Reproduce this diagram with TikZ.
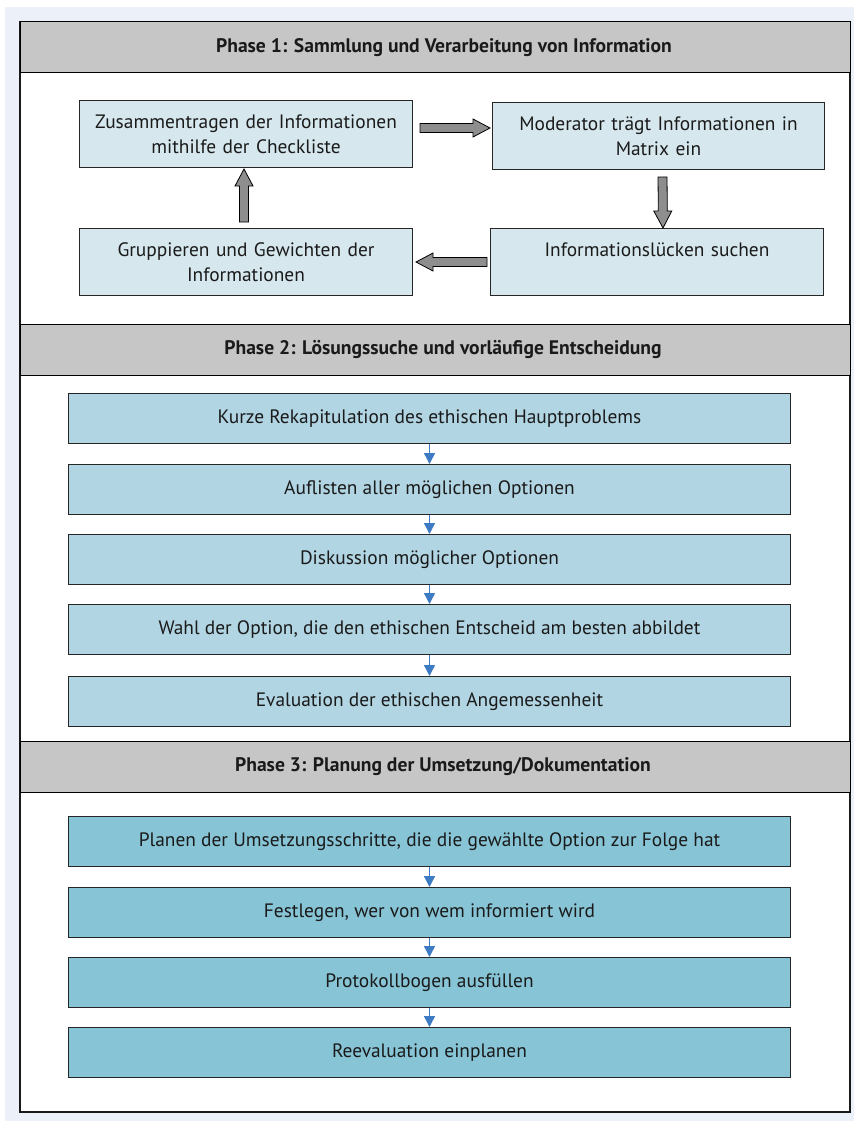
\documentclass[tikz,border=0pt]{standalone}
\usepackage{fontspec}
\setmainfont{PT Sans}
\usetikzlibrary{arrows.meta,calc}
\definecolor{bgcol}{HTML}{ECF0F8}
\definecolor{headgray}{HTML}{C6C6C6}
\definecolor{boxa}{HTML}{D6E8EE}
\definecolor{boxb}{HTML}{B1D5E2}
\definecolor{boxc}{HTML}{87C4D6}
\definecolor{argray}{HTML}{8E8E8E}
\definecolor{arblue}{HTML}{3D7BC4}
\definecolor{txt}{HTML}{1A1A1A}
\newcommand\blockarr[2]{%
  \path[draw=black,fill=argray,line width=0.8pt] let \p1=#1, \p2=#2,
    \n1={atan2(\y2-\y1,\x2-\x1)}, \n2={veclen(\x2-\x1,\y2-\y1)} in
    [shift={(\p1)}, rotate=\n1]
    (0pt,-4.5pt) -- (\n2-17pt,-4.5pt) -- (\n2-17pt,-9pt) -- (\n2,0pt)
    -- (\n2-17pt,9pt) -- (\n2-17pt,4.5pt) -- (0pt,4.5pt) -- cycle;}
\begin{document}
\begin{tikzpicture}[x=1pt,y=-1pt,
  font=\fontsize{19.4}{25}\selectfont,
  head/.style={draw=black,line width=1pt,fill=headgray},
  headtext/.style={font=\fontsize{19.6}{22}\selectfont\bfseries,text=txt},
  boxone/.style={draw=black!85,line width=1pt,fill=boxa,anchor=north west,
    minimum height=67pt,align=center,text=txt,inner sep=2pt},
  boxtwo/.style={draw=black!85,line width=1pt,fill=boxb,anchor=north west,
    minimum width=722pt,minimum height=50pt,text=txt,inner sep=0pt},
  boxthree/.style={boxtwo,fill=boxc},
  bluearr/.style={arblue,line width=1.4pt,-{Triangle[length=11pt,width=11pt]}}
]
\useasboundingbox (0,0) rectangle (854,1121);
\fill[bgcol] (5,7) rectangle (854,1121);
\draw[line width=1.4pt,draw=black!90,fill=white] (20,22) rectangle (850,1112);

% headers
\draw[head] (20,22) rectangle (850,73);
\node[headtext] (h1) at (444,48) {Phase 1: Sammlung und Verarbeitung von Information};
\draw[head] (20,324) rectangle (850,375);
\node[headtext] (h2) at (443,350) {Phase 2: Lösungssuche und vorläufige Entscheidung};
\draw[head] (20,741) rectangle (850,792);
\node[headtext] (h3) at (443,767) {Phase 3: Planung der Umsetzung/Dokumentation};

% phase 1
\node[boxone,minimum width=333pt,text width=329pt] (pa) at (79,100) {Zusammentragen der Informationen\\mithilfe der Checkliste};
\node[boxone,minimum width=332pt,text width=328pt] (pb) at (492,102) {Moderator trägt Informationen in\\Matrix ein};
\node[boxone,minimum width=333pt,text width=329pt] (pc) at (79,228) {Gruppieren und Gewichten der\\Informationen};
\node[boxone,minimum width=333pt,text width=329pt,text depth=26pt,text height=14pt] (pd) at (490,228) {Informationslücken suchen};

\blockarr{($(pa.east)+(7pt,6pt)$)}{($(pb.west)+(-2pt,8pt)$)}
\blockarr{($(pb.south)+(4pt,-7pt)$)}{($(pd.north)+(6pt,0pt)$)}
\blockarr{($(pd.west)+(-3pt,0pt)$)}{($(pc.east)+(3pt,0pt)$)}
\blockarr{($(pc.north)+(-2pt,6pt)$)}{($(pa.south)+(-2pt,-1pt)$)}

% phase 2
\node[boxtwo] (q1) at (68,393) {Kurze Rekapitulation des ethischen Hauptproblems};
\node[boxtwo] (q2) at (68,464) {Auflisten aller möglichen Optionen};
\node[boxtwo] (q3) at (68,534) {Diskussion möglicher Optionen};
\node[boxtwo] (q4) at (68,604) {Wahl der Option, die den ethischen Entscheid am besten abbildet};
\node[boxtwo] (q5) at (68,676) {Evaluation der ethischen Angemessenheit};
\foreach \a/\b in {q1/q2,q2/q3,q3/q4,q4/q5}
  \draw[bluearr] (\a.south) -- (\b.north);

% phase 3
\node[boxthree] (r1) at (68,816) {Planen der Umsetzungsschritte, die die gewählte Option zur Folge hat};
\node[boxthree] (r2) at (68,887) {Festlegen, wer von wem informiert wird};
\node[boxthree] (r3) at (68,957) {Protokollbogen ausfüllen};
\node[boxthree] (r4) at (68,1027) {Reevaluation einplanen};
\foreach \a/\b in {r1/r2,r2/r3,r3/r4}
  \draw[bluearr] (\a.south) -- (\b.north);
\end{tikzpicture}
\end{document}
